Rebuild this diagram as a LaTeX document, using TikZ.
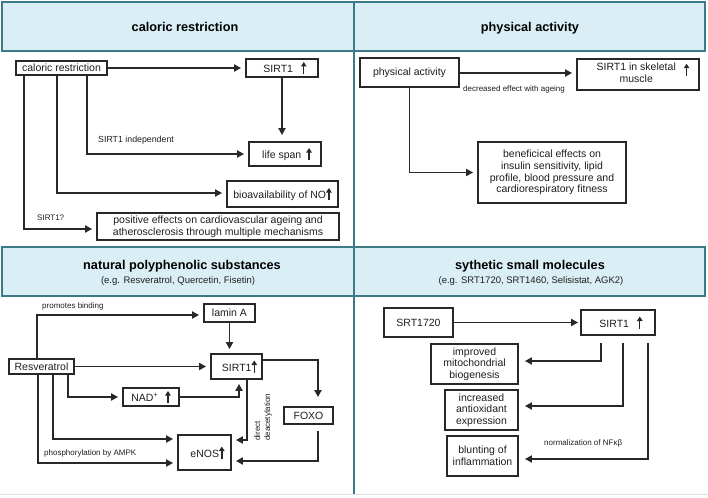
\documentclass[tikz,border=0pt]{standalone}
\usepackage{fontspec}
\setmainfont{Liberation Sans}
\usetikzlibrary{arrows.meta,calc}
\definecolor{hdrline}{RGB}{61,122,136}
\definecolor{hdrfill}{RGB}{217,239,245}
\definecolor{linecol}{RGB}{40,40,40}
\definecolor{txtcol}{RGB}{30,30,30}
\newcommand{\upar}{\tikz[baseline=0pt,x=1pt,y=1pt]{\draw[draw=linecol,line width=1.4pt,-{Triangle[length=4.5pt,width=5.5pt]}] (0,-1.5)--(0,10.5);}}
\begin{document}
\begin{tikzpicture}[x=1pt,y=-1pt,
  box/.style={draw=linecol,line width=1.8pt,inner sep=0pt,align=center,font=\fontsize{10.5}{11.7}\selectfont,text=txtcol},
  arr/.style={draw=linecol,line width=1.8pt,-{Triangle[length=7pt,width=7pt]},shorten >=4pt},
  lab/.style={font=\fontsize{8}{10}\selectfont,text=txtcol,inner sep=0pt,anchor=west},
  hdr/.style={draw=hdrline,fill=hdrfill,line width=1.6pt,inner sep=0pt},
  ttl/.style={font=\bfseries\fontsize{12.7}{14}\selectfont,text=black,inner sep=0pt,anchor=base},
  sub/.style={font=\fontsize{9.5}{11}\selectfont,text=txtcol,inner sep=0pt,anchor=base}]
\useasboundingbox (0,0) rectangle (708,497);
% headers
\node[hdr,minimum width=352pt,minimum height=49pt] (h1) at (178,26.5) {};
\node[hdr,minimum width=351pt,minimum height=49pt] (h2) at (529.5,26.5) {};
\node[hdr,minimum width=352pt,minimum height=49pt] (h3) at (178,271.5) {};
\node[hdr,minimum width=351pt,minimum height=49pt] (h4) at (529.5,271.5) {};
\draw[hdrline,line width=1.6pt] (354,2) -- (354,495);
\draw[black!12,line width=0.8pt] (0,494.5) -- (708,494.5);
\node[ttl] (t1) at (185,31.5) {caloric restriction};
\node[ttl] (t2) at (530,31.5) {physical activity};
\node[ttl] (t3) at (182,269) {natural polyphenolic substances};
\node[sub] (s3) at (178,283) {(e.g. Resveratrol, Quercetin, Fisetin)};
\node[ttl] (t4) at (530,269) {sythetic small molecules};
\node[sub] (s4) at (531,283) {(e.g. SRT1720, SRT1460, Selisistat, AGK2)};

% ---- caloric restriction
\node[box,minimum width=91pt,minimum height=14pt] (cr) at (61.5,68) {caloric restriction};
\node[box,minimum width=72pt,minimum height=18pt] (s1a) at (282,68) {\hspace{6pt}SIRT1\hspace{8pt}\upar};
\node[box,minimum width=72pt,minimum height=24pt] (ls) at (285,154) {\hspace{4pt}life span\hspace{5pt}\upar};
\node[box,minimum width=111pt,minimum height=26pt] (no) at (282.5,194) {bioavailability of NO\upar};
\node[box,minimum width=242pt,minimum height=27pt] (pe) at (218,226.5) {positive effects on cardiovascular ageing and\\atherosclerosis through multiple mechanisms};
\draw[arr] (cr.east) -- (s1a.west);
\draw[arr,shorten >=6pt] (s1a.south) -- (s1a.south |- ls.north);
\draw[arr] ([xshift=25.5pt]cr.south) |- (ls.west);
\draw[arr] ([xshift=-4.5pt]cr.south) |- ([yshift=1pt]no.west);
\draw[arr] ([xshift=-37.5pt]cr.south) |- ([yshift=-2.5pt]pe.west);
\node[lab,font=\fontsize{8.8}{10}\selectfont] (l1) at (98,140) {SIRT1 independent};
\node[lab] (l2) at (37,218) {SIRT1?};

% ---- physical activity
\node[box,minimum width=99pt,minimum height=29pt] (pa) at (409.5,72.5) {physical activity};
\node[box,minimum width=122pt,minimum height=31pt] (sk) at (638,74.5) {\hspace{10pt}\begin{tabular}{@{}c@{}}SIRT1 in skeletal\\muscle\end{tabular}\hspace{8pt}\raisebox{3pt}{\upar}};
\node[box,minimum width=148pt,minimum height=61pt] (ben) at (552,172.5) {beneficical effects on\\insulin sensitivity, lipid\\profile, blood pressure and\\cardiorespiratory fitness};
\draw[arr] (pa.east |- 0,73) -- (sk.west |- 0,73);
\draw[arr] (pa.south) |- (ben.west);
\node[lab] (l3) at (463,89.5) {decreased effect with ageing};

% ---- natural polyphenolic substances
\node[box,minimum width=65pt,minimum height=15pt] (res) at (41.5,366.5) {Resveratrol};
\node[box,minimum width=51pt,minimum height=18pt] (lam) at (229.5,313) {lamin A};
\node[box,minimum width=51pt,minimum height=25pt] (s1b) at (236.5,366.5) {\hspace{6pt}SIRT1\upar};
\node[box,minimum width=56pt,minimum height=18pt] (nad) at (151,397) {NAD\textsuperscript{+}\hspace{7pt}\upar};
\node[box,minimum width=49pt,minimum height=17pt] (foxo) at (308.5,415.5) {FOXO};
\node[box,minimum width=53pt,minimum height=35pt] (enos) at (204.5,452.5) {\hspace{6pt}eNOS\upar};
\draw[arr] ([xshift=-4.5pt]res.north) |- ([yshift=-2pt]lam.west);
\draw[arr] (lam.south) -- (lam.south |- s1b.north);
\draw[arr] (res.east) -- (s1b.west);
\draw[arr] ([xshift=26.5pt]res.south) |- (nad.west);
\draw[arr] (nad.east) -| ([xshift=2.5pt]s1b.south);
\draw[arr,shorten >=9pt] ([yshift=6.5pt]s1b.east) -| ([xshift=9.5pt]foxo.north);
\draw[arr] ([xshift=10.5pt]s1b.south) |- ([yshift=12.5pt]enos.east);
\draw[arr] ([xshift=11.5pt]res.south) |- ([yshift=13.5pt]enos.west);
\draw[arr] ([xshift=-3.5pt]res.south) |- ([yshift=-10.5pt]enos.west);
\draw[arr,shorten <=6pt] ([xshift=9.5pt]foxo.south) |- ([yshift=-8.5pt]enos.east);
\node[lab] (l4) at (42,306) {promotes binding};
\node[lab] (l5) at (44,453) {phosphorylation by AMPK};
\node[lab,rotate=90,align=left,font=\fontsize{8}{10}\selectfont] (l6) at (263,441) {direct\\deacetylation};

% ---- synthetic small molecules
\node[box,minimum width=69pt,minimum height=29pt] (srt) at (418.5,322.5) {SRT1720};
\node[box,minimum width=74pt,minimum height=25pt] (s1c) at (618,322.5) {\hspace{6pt}SIRT1\hspace{8pt}\upar};
\node[box,minimum width=87pt,minimum height=40pt] (mito) at (474.5,364) {improved\\mitochondrial\\biogenesis};
\node[box,minimum width=73pt,minimum height=40pt] (anti) at (481.5,410) {increased\\antioxidant\\expression};
\node[box,minimum width=71pt,minimum height=40pt] (blunt) at (482.5,456) {blunting of\\inflammation};
\draw[arr,shorten >=2pt] (srt.east) -- (s1c.west);
\draw[arr,shorten <=7pt,shorten >=6pt] ([xshift=-17pt]s1c.south) |- ([yshift=3pt]mito.east);
\draw[arr,shorten <=7pt,shorten >=6pt] ([xshift=5pt]s1c.south) |- ([yshift=4pt]anti.east);
\draw[arr,shorten <=7pt,shorten >=6pt] ([xshift=30pt]s1c.south) |- ([yshift=-3pt]blunt.east);
\node[lab] (l7) at (544,443) {normalization of NFκβ};
\end{tikzpicture}
\end{document}
